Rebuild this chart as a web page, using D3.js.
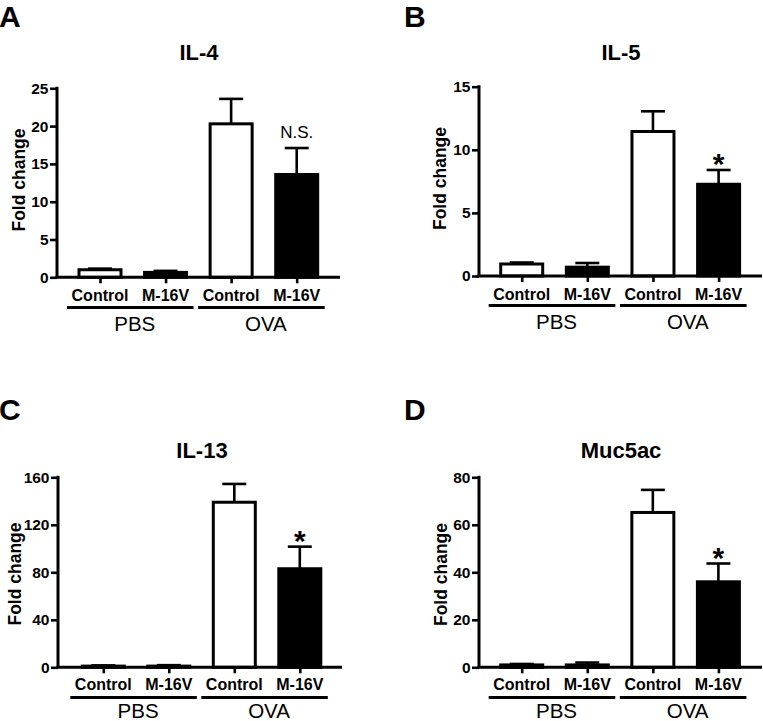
<!DOCTYPE html>
<html>
<head>
<meta charset="utf-8">
<script src="https://cdn.jsdelivr.net/npm/d3@7"></script>
<style>
html,body{margin:0;padding:0;background:#fff;}
svg{display:block;}
text{font-family:"Liberation Sans",Arial,Helvetica,sans-serif;fill:#000;}
</style>
</head>
<body>
<svg id="chart" width="763" height="721"></svg>
<script>
// ---- data ----
const categories = ["Control", "M-16V", "Control", "M-16V"];
const groups = ["PBS", "OVA"];
const panelLetters = ["A", "B", "C", "D"];
const panelTitles = ["IL-4", "IL-5", "IL-13", "Muc5ac"];

const il4Means = [1.0, 0.65, 20.3, 13.6];
const il4Errors = [0.15, 0.2, 3.3, 3.5];
const il4Ticks = [0, 5, 10, 15, 20, 25];

const il5Means = [0.95, 0.7, 11.45, 7.27];
const il5Errors = [0.12, 0.33, 1.6, 1.13];
const il5Ticks = [0, 5, 10, 15];

const il13Means = [1.0, 1.0, 139, 83];
const il13Errors = [0.6, 0.8, 15.4, 18.6];
const il13Ticks = [0, 40, 80, 120, 160];

const muc5acMeans = [1.0, 1.0, 65.2, 36];
const muc5acErrors = [0.4, 1.0, 9.5, 7.7];
const muc5acTicks = [0, 20, 40, 60, 80];

const significance = ["N.S.", "*", "*", "*"];
const yAxisTitle = "Fold change";

// ---- layout (positions only) ----
const layout = [
  {means: il4Means, errors: il4Errors, ticks: il4Ticks,
   axisX: 57, axisRight: 340, yTop: 88.3, yBot: 277.3, c0: 100, c3: 296.7,
   letterX: -1, letterY: 27, titleX: 199, titleY: 59.5, yTitleX: 24.5, yTitleY: 180,
   catY: 301, lineY: 307.5, groupY: 330.5},
  {means: il5Means, errors: il5Errors, ticks: il5Ticks,
   axisX: 479, axisRight: 762, yTop: 86.7, yBot: 276, c0: 521.7, c3: 718.6,
   letterX: 404, letterY: 27, titleX: 621, titleY: 59.5, yTitleX: 446, yTitleY: 178.5,
   catY: 300, lineY: 305.5, groupY: 329},
  {means: il13Means, errors: il13Errors, ticks: il13Ticks,
   axisX: 58, axisRight: 342, yTop: 477.3, yBot: 667.3, c0: 103.3, c3: 299.8,
   letterX: -1, letterY: 419.5, titleX: 202, titleY: 457.5, yTitleX: 21, yTitleY: 574,
   catY: 690, lineY: 697.5, groupY: 717.5},
  {means: muc5acMeans, errors: muc5acErrors, ticks: muc5acTicks,
   axisX: 479, axisRight: 762, yTop: 477.3, yBot: 667.3, c0: 521.7, c3: 718.4,
   letterX: 404, letterY: 420, titleX: 621, titleY: 457.5, yTitleX: 447, yTitleY: 574.5,
   catY: 690, lineY: 697.5, groupY: 717.5}
];

const svg = d3.select("#chart");
const barW = 42;
const capHalf = 12;

layout.forEach((p, i) => {
  const g = svg.append("g");
  const ticks = p.ticks;
  const y = d3.scaleLinear().domain([0, d3.max(ticks)]).range([p.yBot, p.yTop]);
  const x = d3.scalePoint().domain(d3.range(categories.length)).range([p.c0, p.c3]);
  const data = p.means.map((m, k) => ({k, m, e: p.errors[k]}));

  // error bars (upward only)
  g.selectAll(".err").data(data).enter().append("line")
    .attr("x1", d => x(d.k)).attr("x2", d => x(d.k))
    .attr("y1", d => y(d.m)).attr("y2", d => y(d.m + d.e))
    .attr("stroke", "#000").attr("stroke-width", 2.6);
  g.selectAll(".cap").data(data).enter().append("line")
    .attr("x1", d => x(d.k) - capHalf).attr("x2", d => x(d.k) + capHalf)
    .attr("y1", d => y(d.m + d.e)).attr("y2", d => y(d.m + d.e))
    .attr("stroke", "#000").attr("stroke-width", 2.6);

  // bars
  g.selectAll(".bar").data(data).enter().append("rect")
    .attr("x", d => x(d.k) - barW / 2)
    .attr("width", barW)
    .attr("y", d => y(d.m))
    .attr("height", d => y(0) - y(d.m))
    .attr("fill", d => d.k % 2 === 0 ? "#fff" : "#000")
    .attr("stroke", "#000").attr("stroke-width", 3);

  // y axis
  const yAxis = d3.axisLeft(y).tickValues(ticks).tickSize(7).tickPadding(1.5).tickFormat(d3.format("d"));
  const ya = g.append("g").attr("transform", `translate(${p.axisX},0)`).call(yAxis);
  ya.select(".domain").attr("d", `M0,${p.yTop - 1.5}V${p.yBot}`).attr("stroke", "#000").attr("stroke-width", 3);
  ya.selectAll(".tick line").attr("stroke", "#000").attr("stroke-width", 2.6);
  ya.selectAll(".tick text").style("font-size", "15.5px").style("font-weight", "bold")
    .style("font-family", '"Liberation Sans",Arial,sans-serif').attr("fill", "#000");

  // x axis
  const xAxis = d3.axisBottom(x).tickSize(6).tickFormat(() => "");
  const xa = g.append("g").attr("transform", `translate(0,${p.yBot})`).call(xAxis);
  xa.select(".domain").attr("d", `M${p.axisX - 1.5},0H${p.axisRight}`).attr("stroke", "#000").attr("stroke-width", 3);
  xa.selectAll(".tick line").attr("stroke", "#000").attr("stroke-width", 2.6);

  // category labels
  g.selectAll(".cat").data(categories).enter().append("text")
    .attr("x", (d, k) => x(k)).attr("y", p.catY)
    .attr("text-anchor", "middle")
    .style("font-size", "16px").style("font-weight", "bold")
    .text(d => d);

  // group lines and labels
  groups.forEach((gr, j) => {
    const a = x(j * 2), b = x(j * 2 + 1);
    g.append("line").attr("x1", a - 33).attr("x2", b + 28)
      .attr("y1", p.lineY).attr("y2", p.lineY)
      .attr("stroke", "#000").attr("stroke-width", 3);
    g.append("text").attr("x", (a + b) / 2 + 2).attr("y", p.groupY)
      .attr("text-anchor", "middle").style("font-size", "20.5px")
      .text(gr);
  });

  // significance marker above OVA M-16V
  const sk = 3;
  const capY = y(p.means[sk] + p.errors[sk]);
  const s = significance[i];
  if (s === "*") {
    g.append("text").attr("x", x(sk)).attr("y", capY + 4)
      .attr("text-anchor", "middle").style("font-size", "30px").style("font-weight", "bold")
      .text(s);
  } else {
    g.append("text").attr("x", x(sk)).attr("y", capY - 10.5)
      .attr("text-anchor", "middle").style("font-size", "17px")
      .text(s);
  }

  // y-axis title
  g.append("text")
    .attr("transform", `translate(${p.yTitleX},${p.yTitleY}) rotate(-90)`)
    .attr("text-anchor", "middle")
    .style("font-size", "17.5px").style("font-weight", "bold")
    .text(yAxisTitle);

  // panel title
  g.append("text").attr("x", p.titleX).attr("y", p.titleY)
    .attr("text-anchor", "middle").style("font-size", "22px").style("font-weight", "bold")
    .text(panelTitles[i]);

  // panel letter
  g.append("text").attr("x", p.letterX).attr("y", p.letterY)
    .style("font-size", "30px").style("font-weight", "bold")
    .text(panelLetters[i]);
});
</script>
</body>
</html>
